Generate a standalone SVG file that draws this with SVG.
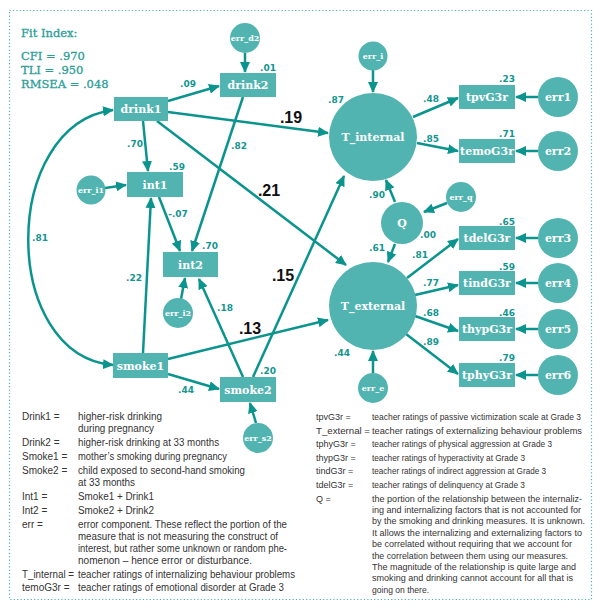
<svg xmlns="http://www.w3.org/2000/svg" width="600" height="611" viewBox="0 0 600 611">
<style>
.box{fill:#52b4b0}
.nd{fill:#52b4b0}
.nt{font-family:"DejaVu Serif",serif;font-weight:bold;font-size:11px;fill:#fff;text-anchor:middle}
.st{font-family:"DejaVu Serif",serif;font-weight:bold;font-size:8px;fill:#fff;text-anchor:middle}
.c{font-family:"DejaVu Sans",sans-serif;font-weight:bold;font-size:9px;fill:#14958f;text-anchor:middle}
.big{font-family:"Liberation Sans",Arial,sans-serif;font-weight:bold;font-size:16px;fill:#111;text-anchor:middle}
.fit{font-family:"DejaVu Serif",serif;font-size:11.5px;fill:#2a9d96;stroke:#2a9d96;stroke-width:0.3}
.lg{font-family:"Liberation Sans",Arial,sans-serif;font-size:10px;fill:#333}
.lr{font-family:"Liberation Sans",Arial,sans-serif;font-size:9px;fill:#333}
.ln{fill:none;stroke:#0b948e;stroke-width:2.5;marker-end:url(#ah)}
</style>
<defs>
<marker id="ah" viewBox="0 0 11 10" markerWidth="11" markerHeight="10" refX="10" refY="5" orient="auto-start-reverse" markerUnits="userSpaceOnUse"><path d="M0,0 L11,5 L0,10 z" fill="#0b948e"/></marker>
</defs>
<rect x="9.5" y="10.5" width="582" height="589" fill="none" stroke="#4fb3af" stroke-width="1.2" stroke-dasharray="1.2 2.2"/>
<g id="fit">
<text class="fit" x="21" y="37">Fit Index:</text>
<text class="fit" x="21" y="59.5">CFI = .970</text>
<text class="fit" x="21" y="73.5">TLI = .950</text>
<text class="fit" x="21" y="87.5">RMSEA = .048</text>
</g>
<g id="connectors">
<path class="ln" d="M168,101 L219,86"/>
<path class="ln" d="M245,53 L245,72"/>
<path class="ln" d="M168,112 L328,133"/>
<path class="ln" d="M143,121 L148,171"/>
<path class="ln" d="M157,121 L346,265"/>
<path class="ln" d="M243,97 L192,251"/>
<path class="ln" d="M105,188 L126,185"/>
<path class="ln" d="M159,197 L180,251"/>
<path class="ln" d="M143,353 L151,198"/>
<path class="ln" d="M181,299 L185,278"/>
<path class="ln" d="M243,377 L199,279"/>
<path class="ln" d="M253,377 L344,176"/>
<path class="ln" d="M168,359 L328,320"/>
<path class="ln" d="M168,374 L219,389"/>
<path class="ln" d="M256,423 L250,403"/>
<path class="ln" d="M113,110 C0,125 0,355 113,365" marker-start="url(#ah)"/>
<path class="ln" d="M373,70 L373,92"/>
<path class="ln" d="M413,117 L458,98"/>
<path class="ln" d="M417,143 L458,151"/>
<path class="ln" d="M538,97 L516,97"/>
<path class="ln" d="M538,151 L516,151"/>
<path class="ln" d="M395,202 L386,180"/>
<path class="ln" d="M447,203 L424,212"/>
<path class="ln" d="M395,244 L388,262"/>
<path class="ln" d="M407,278 L458,239"/>
<path class="ln" d="M415,295 L458,285"/>
<path class="ln" d="M415,316 L458,331"/>
<path class="ln" d="M406,334 L458,374"/>
<path class="ln" d="M538,238 L516,238"/>
<path class="ln" d="M538,283 L516,283"/>
<path class="ln" d="M538,329 L516,329"/>
<path class="ln" d="M538,375 L516,375"/>
<path class="ln" d="M373,373 L373,351"/>
</g>
<g id="drink1"><rect class="box" x="114" y="97" width="54" height="24"/><text class="nt" x="141" y="113">drink1</text></g>
<g id="drink2"><rect class="box" x="220" y="73" width="56" height="24"/><text class="nt" x="248" y="89">drink2</text></g>
<g id="int1"><rect class="box" x="127" y="172" width="56" height="25"/><text class="nt" x="155" y="188.5">int1</text></g>
<g id="int2"><rect class="box" x="163" y="252" width="55" height="25"/><text class="nt" x="190.5" y="268.5">int2</text></g>
<g id="smoke1"><rect class="box" x="113" y="353" width="55" height="25"/><text class="nt" x="140.5" y="369.5">smoke1</text></g>
<g id="smoke2"><rect class="box" x="220" y="377" width="56" height="25"/><text class="nt" x="248" y="393.5">smoke2</text></g>
<g id="err_d2"><circle class="nd" cx="245" cy="38" r="15"/><text class="st" x="245" y="41">err_d2</text></g>
<g id="err_i1"><circle class="nd" cx="91" cy="190" r="14.5"/><text class="st" x="91" y="193">err_i1</text></g>
<g id="err_i2"><circle class="nd" cx="178" cy="313" r="15"/><text class="st" x="178" y="316">err_i2</text></g>
<g id="err_s2"><circle class="nd" cx="258" cy="438" r="15"/><text class="st" x="258" y="441">err_s2</text></g>
<g id="err_i"><circle class="nd" cx="373" cy="56" r="14.5"/><text class="st" x="373" y="59">err_i</text></g>
<g id="err_q"><circle class="nd" cx="461" cy="197" r="15"/><text class="st" x="461" y="200">err_q</text></g>
<g id="err_e"><circle class="nd" cx="373" cy="388" r="15"/><text class="st" x="373" y="391">err_e</text></g>
<g id="T_internal"><circle class="nd" cx="373" cy="137" r="44"/><text class="nt" x="373" y="141">T_internal</text></g>
<g id="T_external"><circle class="nd" cx="373" cy="306" r="44"/><text class="nt" x="373" y="310">T_external</text></g>
<g id="Q"><circle class="nd" cx="402" cy="223" r="21"/><text class="nt" x="402" y="227">Q</text></g>
<g id="tpvG3r"><rect class="box" x="459" y="85" width="56" height="24"/><text class="nt" x="487" y="101">tpvG3r</text></g>
<g id="temoG3r"><rect class="box" x="459" y="139" width="56" height="24"/><text class="nt" x="487" y="155">temoG3r</text></g>
<g id="tdelG3r"><rect class="box" x="459" y="226" width="56" height="24"/><text class="nt" x="487" y="242">tdelG3r</text></g>
<g id="tindG3r"><rect class="box" x="459" y="271" width="56" height="24"/><text class="nt" x="487" y="287">tindG3r</text></g>
<g id="thypG3r"><rect class="box" x="459" y="317" width="56" height="24"/><text class="nt" x="487" y="333">thypG3r</text></g>
<g id="tphyG3r"><rect class="box" x="459" y="363" width="56" height="24"/><text class="nt" x="487" y="379">tphyG3r</text></g>
<g id="err1"><circle class="nd" cx="558" cy="97" r="20"/><text class="nt" x="558" y="101">err1</text></g>
<g id="err2"><circle class="nd" cx="558" cy="151" r="20"/><text class="nt" x="558" y="155">err2</text></g>
<g id="err3"><circle class="nd" cx="558" cy="238" r="20"/><text class="nt" x="558" y="242">err3</text></g>
<g id="err4"><circle class="nd" cx="558" cy="283" r="20"/><text class="nt" x="558" y="287">err4</text></g>
<g id="err5"><circle class="nd" cx="558" cy="329" r="20"/><text class="nt" x="558" y="333">err5</text></g>
<g id="err6"><circle class="nd" cx="558" cy="375" r="20"/><text class="nt" x="558" y="379">err6</text></g>
<g id="coefficients">
<text class="c" x="188" y="87.3">.09</text>
<text class="c" x="268" y="71.3">.01</text>
<text class="c" x="135" y="147.3">.70</text>
<text class="c" x="177" y="170.3">.59</text>
<text class="c" x="239" y="149.3">.82</text>
<text class="c" x="178" y="217.3">-.07</text>
<text class="c" x="210" y="249.3">.70</text>
<text class="c" x="40" y="241.3">.81</text>
<text class="c" x="134" y="281.3">.22</text>
<text class="c" x="225" y="311.3">.18</text>
<text class="c" x="186" y="393.3">.44</text>
<text class="c" x="268" y="374.3">.20</text>
<text class="c" x="336" y="103.3">.87</text>
<text class="c" x="431" y="102.3">.48</text>
<text class="c" x="431" y="142.3">.85</text>
<text class="c" x="507" y="82.3">.23</text>
<text class="c" x="507" y="137.3">.71</text>
<text class="c" x="377" y="198.3">.90</text>
<text class="c" x="428" y="238.3">.00</text>
<text class="c" x="377" y="251.3">.61</text>
<text class="c" x="420" y="258.3">.81</text>
<text class="c" x="431" y="286.3">.77</text>
<text class="c" x="431" y="316.3">.68</text>
<text class="c" x="431" y="345.3">.89</text>
<text class="c" x="342" y="356.3">.44</text>
<text class="c" x="507" y="225.3">.65</text>
<text class="c" x="507" y="270.3">.59</text>
<text class="c" x="507" y="316.3">.46</text>
<text class="c" x="507" y="361.3">.79</text>
<text class="big" x="291" y="123">.19</text>
<text class="big" x="269" y="196">.21</text>
<text class="big" x="283" y="281">.15</text>
<text class="big" x="250" y="334">.13</text>
</g>
<g id="legend-left" class="lg">
<text x="22" y="420">Drink1 =</text><text x="78" y="420" textLength="84" lengthAdjust="spacingAndGlyphs">higher-risk drinking</text>
<text x="78" y="432" textLength="76" lengthAdjust="spacingAndGlyphs">during pregnancy</text>
<text x="22" y="446">Drink2 =</text><text x="78" y="446" textLength="141" lengthAdjust="spacingAndGlyphs">higher-risk drinking at 33 months</text>
<text x="22" y="460">Smoke1 =</text><text x="78" y="460" textLength="149" lengthAdjust="spacingAndGlyphs">mother’s smoking during pregnancy</text>
<text x="22" y="474">Smoke2 =</text><text x="78" y="474" textLength="167" lengthAdjust="spacingAndGlyphs">child exposed to second-hand smoking</text>
<text x="78" y="486" textLength="57" lengthAdjust="spacingAndGlyphs">at 33 months</text>
<text x="22" y="500">Int1 =</text><text x="78" y="500" textLength="76" lengthAdjust="spacingAndGlyphs">Smoke1 + Drink1</text>
<text x="22" y="514">Int2 =</text><text x="78" y="514" textLength="76" lengthAdjust="spacingAndGlyphs">Smoke2 + Drink2</text>
<text x="22" y="528">err =</text><text x="78" y="528" textLength="209" lengthAdjust="spacingAndGlyphs">error component. These reflect the portion of the</text>
<text x="78" y="540" textLength="200" lengthAdjust="spacingAndGlyphs">measure that is not measuring the construct of</text>
<text x="78" y="552" textLength="209" lengthAdjust="spacingAndGlyphs">interest, but rather some unknown or random phe-</text>
<text x="78" y="564" textLength="174" lengthAdjust="spacingAndGlyphs">nomenon – hence error or disturbance.</text>
<text x="22" y="578" textLength="52" lengthAdjust="spacingAndGlyphs">T_internal =</text><text x="78" y="578" textLength="217" lengthAdjust="spacingAndGlyphs">teacher ratings of internalizing behaviour problems</text>
<text x="22" y="591">temoG3r =</text><text x="78" y="591" textLength="206" lengthAdjust="spacingAndGlyphs">teacher ratings of emotional disorder at Grade 3</text>
</g>
<g id="legend-right" class="lr">
<text x="316" y="420">tpvG3r =</text><text x="372" y="420" textLength="209" lengthAdjust="spacingAndGlyphs">teacher ratings of passive victimization scale at Grade 3</text>
<text x="316" y="433.6" textLength="54" lengthAdjust="spacingAndGlyphs">T_external =</text><text x="372" y="433.6" textLength="210" lengthAdjust="spacingAndGlyphs">teacher ratings of externalizing behaviour problems</text>
<text x="316" y="447.2">tphyG3r =</text><text x="372" y="447.2" textLength="180" lengthAdjust="spacingAndGlyphs">teacher ratings of physical aggression at Grade 3</text>
<text x="316" y="460.8">thypG3r =</text><text x="372" y="460.8" textLength="153" lengthAdjust="spacingAndGlyphs">teacher ratings of hyperactivity at Grade 3</text>
<text x="316" y="474.4">tindG3r =</text><text x="372" y="474.4" textLength="174" lengthAdjust="spacingAndGlyphs">teacher ratings of indirect aggression at Grade 3</text>
<text x="316" y="488">tdelG3r =</text><text x="372" y="488" textLength="153" lengthAdjust="spacingAndGlyphs">teacher ratings of delinquency at Grade 3</text>
<text x="316" y="501.6">Q =</text><text x="372" y="501.6" textLength="210" lengthAdjust="spacingAndGlyphs">the portion of the relationship between the internaliz-</text>
<text x="372" y="513" textLength="209" lengthAdjust="spacingAndGlyphs">ing and internalizing factors that is not accounted for</text>
<text x="372" y="524.4" textLength="213" lengthAdjust="spacingAndGlyphs">by the smoking and drinking measures. It is unknown.</text>
<text x="372" y="535.8" textLength="210" lengthAdjust="spacingAndGlyphs">It allows the internalizing and externalizing factors to</text>
<text x="372" y="547.2" textLength="200" lengthAdjust="spacingAndGlyphs">be correlated without requiring that we account for</text>
<text x="372" y="558.6" textLength="196" lengthAdjust="spacingAndGlyphs">the correlation between them using our measures.</text>
<text x="372" y="570" textLength="204" lengthAdjust="spacingAndGlyphs">The magnitude of the relationship is quite large and</text>
<text x="372" y="581.4" textLength="201" lengthAdjust="spacingAndGlyphs">smoking and drinking cannot account for all that is</text>
<text x="372" y="592.8" textLength="57" lengthAdjust="spacingAndGlyphs">going on there.</text>
</g>
</svg>
